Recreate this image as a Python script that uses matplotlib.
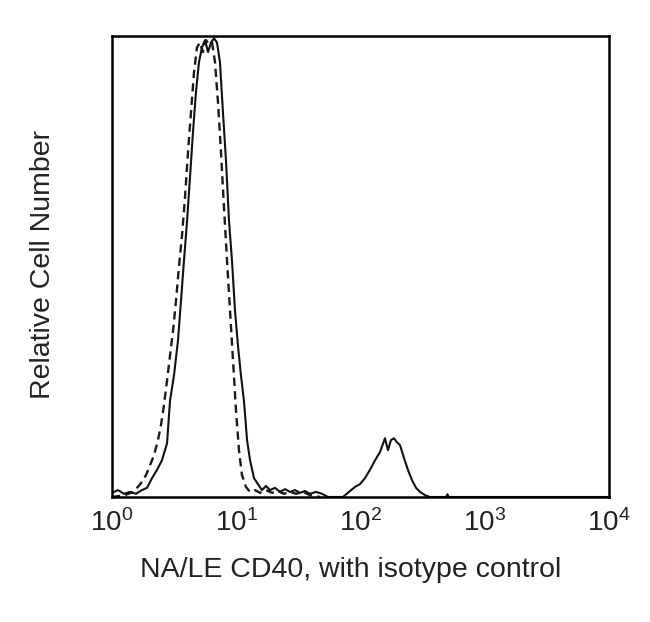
import matplotlib
matplotlib.use("Agg")
import matplotlib.pyplot as plt
import numpy as np

plt.rcParams['font.family'] = ['Liberation Sans', 'DejaVu Sans']
plt.rcParams['mathtext.fontset'] = 'custom'
plt.rcParams['mathtext.rm'] = 'Liberation Sans'
plt.rcParams['mathtext.it'] = 'Liberation Sans'
plt.rcParams['mathtext.bf'] = 'Liberation Sans'

# CD40 stained (solid) - log10 fluorescence, relative count (%)
solid_log = [0.00, 0.048, 0.097, 0.145, 0.193, 0.241, 0.282, 0.322, 0.362, 0.402, 0.443, 0.467,
             0.499, 0.531, 0.555, 0.579, 0.604, 0.628, 0.652, 0.676, 0.700, 0.724, 0.749, 0.773,
             0.797, 0.821, 0.845, 0.869, 0.893, 0.918, 0.942, 0.966, 0.990, 1.014, 1.038, 1.062,
             1.087, 1.111, 1.143, 1.175, 1.207, 1.239, 1.272, 1.312, 1.352, 1.392, 1.433, 1.473,
             1.513, 1.553, 1.594, 1.642, 1.690, 1.738, 1.795, 1.859, 1.907, 1.956, 1.996, 2.036,
             2.076, 2.117, 2.157, 2.197, 2.221, 2.245, 2.270, 2.294, 2.318, 2.350, 2.382, 2.414,
             2.447, 2.479, 2.519, 2.559, 2.690, 2.700, 2.710, 4.000]
solid_cnt = [0.9, 1.5, 0.7, 1.1, 0.7, 1.5, 2.0, 4.1, 5.9, 8.0, 11.7, 21.0,
             26.5, 34.1, 42.7, 51.4, 60.1, 69.8, 79.6, 88.3, 94.8, 98.0, 99.6, 97.0,
             99.1, 100.0, 99.1, 94.8, 83.9, 73.1, 60.1, 51.4, 40.6, 33.0, 26.5, 21.0,
             12.4, 8.0, 4.1, 2.8, 1.5, 2.4, 1.5, 2.0, 1.1, 1.7, 1.1, 1.5,
             0.9, 1.3, 0.7, 1.1, 0.7, 0.0, 0.0, 0.0, 1.1, 2.2, 2.8, 4.1,
             5.9, 8.0, 9.8, 12.8, 10.2, 12.4, 12.8, 11.9, 11.3, 8.5, 5.9, 3.7,
             2.0, 1.1, 0.4, 0.0, 0.0, 0.6, 0.0, 0.0]

# Isotype control (dashed)
iso_log = [0.000, 0.105, 0.169, 0.209, 0.241, 0.274, 0.306, 0.338, 0.370, 0.394, 0.418, 0.443,
           0.467, 0.491, 0.515, 0.539, 0.563, 0.588, 0.612, 0.636, 0.660, 0.684, 0.708, 0.732,
           0.757, 0.781, 0.805, 0.829, 0.853, 0.877, 0.901, 0.926, 0.950, 0.974, 0.998, 1.022,
           1.046, 1.078, 1.111, 1.151, 1.191, 1.239, 1.288, 1.336, 1.384, 1.433, 1.481, 1.537,
           1.594, 1.674]
iso_cnt = [0.0, 0.4, 1.1, 2.2, 3.3, 4.8, 6.9, 9.1, 12.4, 15.6, 20.0, 25.4,
           30.8, 36.2, 42.7, 50.3, 56.8, 65.5, 75.3, 83.9, 92.6, 98.0, 99.1, 97.0,
           99.6, 98.7, 99.1, 94.8, 86.1, 75.3, 63.3, 51.4, 40.6, 29.7, 18.9, 10.2,
           4.8, 2.2, 1.1, 1.5, 0.9, 1.5, 0.9, 1.3, 0.7, 1.1, 0.7, 1.1,
           0.4, 0.0]

xticks = [1, 10, 100, 1000, 10000]
xticklabels = [r'$\mathregular{10^0}$', r'$\mathregular{10^1}$', r'$\mathregular{10^2}$',
               r'$\mathregular{10^3}$', r'$\mathregular{10^4}$']
xlabel = 'NA/LE CD40, with isotype control'
ylabel = 'Relative Cell Number'

fig = plt.figure(figsize=(6.5, 6.22), dpi=100)
ax = fig.add_axes([0.1723, 0.2010, 0.7646, 0.7411])

ax.plot(10 ** np.array(iso_log), iso_cnt, color='#1a1a1a', lw=1.7, ls=(0, (3.5, 2.2)))
ax.plot(10 ** np.array(solid_log), solid_cnt, color='#111111', lw=1.5)

ax.set_xscale('log')
ax.set_xlim(1, 10000)
ax.set_ylim(0, 100.5)
ax.set_xticks(xticks)
ax.set_xticklabels(xticklabels, fontsize=20, color='#222222')
ax.minorticks_off()
ax.tick_params(axis='x', length=0, pad=9)
ax.set_yticks([])
for s in ax.spines.values():
    s.set_linewidth(1.8)
    s.set_color('black')

fig.text(0.540, 0.0836, xlabel, fontsize=20.5, ha='center', va='center', color='#222222')
fig.text(0.066, 0.574, ylabel, fontsize=20.5, ha='center', va='center', rotation=90, color='#222222')

fig.savefig('out.png', dpi=100)
